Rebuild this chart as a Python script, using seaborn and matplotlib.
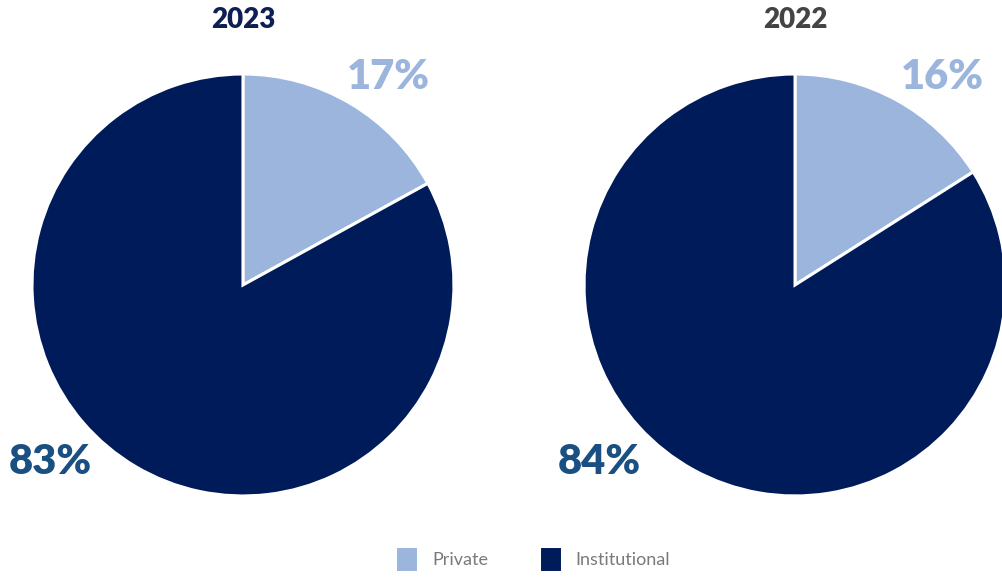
import matplotlib
matplotlib.use("Agg")
import matplotlib.pyplot as plt
import seaborn as sns

years = ["2023", "2022"]
categories = ["Private", "Institutional"]
private_share = [17, 16]
institutional_share = [83, 84]

colors = ["#9bb5dd", "#001b5a"]
title_colors = ["#0d1f55", "#444444"]
big_label_color = "#1a4f82"

sns.set_theme(style="white")
plt.rcParams["font.family"] = ["Lato", "DejaVu Sans"]

fig = plt.figure(figsize=(10.03, 5.77), dpi=100)

# pie boxes in figure fractions (left, bottom, width, height)
boxes = [(0.0319, 0.1404, 0.4207, 0.7314),
         (0.5823, 0.1404, 0.4207, 0.7314)]

wedges = None
for i, year in enumerate(years):
    ax = fig.add_axes(boxes[i])
    vals = [private_share[i], institutional_share[i]]
    wedges, _ = ax.pie(vals, colors=colors, startangle=90, counterclock=False,
                       radius=1, wedgeprops=dict(edgecolor="white", linewidth=2.2))
    ax.set_xlim(-1, 1)
    ax.set_ylim(-1, 1)
    ax.set_aspect("equal")
    ax.axis("off")
    for w in wedges:
        w.set_clip_on(False)

    ax.text(0, 1.255, year, ha="center", va="center", fontsize=20,
            fontweight="heavy", color=title_colors[i])
    ax.text(0.69 if i == 0 else 0.70, 0.985, f"{private_share[i]}%", ha="center",
            va="center", fontsize=30, fontweight="heavy", color=colors[0])
    ax.text(-0.915 if i == 0 else -0.93, -0.84, f"{institutional_share[i]}%",
            ha="center", va="center", fontsize=30, fontweight="heavy",
            color=big_label_color)

leg = fig.legend(wedges, categories, loc="center", bbox_to_anchor=(0.531, 0.031),
                 ncol=2, frameon=False, fontsize=13, handlelength=1.3,
                 handleheight=1.8, handletextpad=0.75, columnspacing=2.8)
for t in leg.get_texts():
    t.set_color("#7a7a7a")

fig.savefig("out.png", dpi=100)
